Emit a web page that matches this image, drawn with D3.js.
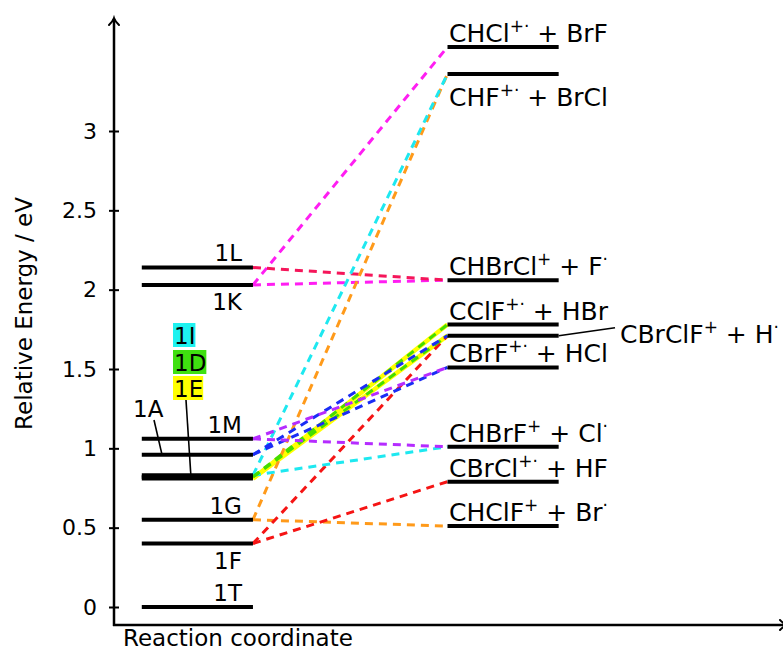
<!DOCTYPE html>
<html>
<head>
<meta charset="utf-8">
<script src="https://cdn.jsdelivr.net/npm/d3@7/dist/d3.min.js"></script>
<style>
  body { margin: 0; background: #fff; }
  text { font-family: "DejaVu Sans", sans-serif; fill: #000; }
</style>
</head>
<body>
<svg id="chart" width="783" height="650"></svg>
<script>
// Intermediates (left column), energies in eV
const intermediateNames    = ["1T", "1F", "1G", "1E", "1D", "1I", "1A", "1M", "1K", "1L"];
const intermediateEnergies = [0.00, 0.40, 0.55, 0.81, 0.82, 0.83, 0.96, 1.06, 2.03, 2.14];

// Dissociation products (right column), energies in eV
const productKeys      = ["CHClF", "CBrCl", "CHBrF", "CBrF", "CBrClF", "CClF", "CHBrCl", "CHF", "CHCl"];
const productEnergies  = [0.51, 0.79, 1.01, 1.51, 1.71, 1.78, 2.06, 3.36, 3.53];
const productIons      = ["CHClF", "CBrCl", "CHBrF", "CBrF", "CBrClF", "CClF", "CHBrCl", "CHF", "CHCl"];
const productCharges   = ["+", "+·", "+", "+·", "+", "+·", "+", "+·", "+·"];
const productNeutrals  = ["Br", "HF", "Cl", "HCl", "H", "HBr", "F", "BrCl", "BrF"];
const productRadicals  = ["·", "", "·", "", "·", "", "·", "", ""];

// Pathways from an intermediate to a product channel
const pathFrom = ["1K", "1K", "1L", "1G", "1G", "1F", "1F", "1I", "1I", "1E", "1E", "1D", "1D", "1A", "1A", "1M", "1M"];
const pathTo   = ["CHCl", "CHBrCl", "CHBrCl", "CHF", "CHClF", "CBrCl", "CBrClF", "CHF", "CHBrF", "CClF", "CBrClF", "CClF", "CBrClF", "CBrClF", "CBrF", "CHBrF", "CBrF"];

// y-axis ticks
const yTicks = [0, 0.5, 1, 1.5, 2, 2.5, 3];
const yTickLabels = ["0", "0.5", "1", "1.5", "2", "2.5", "3"];

// ---- styling ----
const pathColor = {
  "1K": "#ff1ef2", "1L": "#f5165a", "1G": "#ff9a1a", "1F": "#f51414",
  "1I": "#1ee8f0", "1E": "#ffff00", "1D": "#44dd00", "1A": "#1a2cf5", "1M": "#b52cff"
};
const boxColor = { "1I": "#1ef2f0", "1D": "#3fe010", "1E": "#ffff00" };

const svg = d3.select("#chart");

// x: reaction coordinate (arbitrary units), y: relative energy
const x = d3.scaleLinear().domain([0, 6]).range([114, 781]);
const y = d3.scaleLinear().domain([0, 3]).range([607, 131]);
const leftCol = [0.25, 1.25], rightCol = [3, 4];

const interE = new Map(intermediateNames.map((n, i) => [n, intermediateEnergies[i]]));
const prodE  = new Map(productKeys.map((k, i) => [k, productEnergies[i]]));

// ---- axes ----
const yAxis = d3.axisLeft(y).tickValues(yTicks)
  .tickFormat((d, i) => yTickLabels[i]).tickSize(5).tickPadding(12);
const gy = svg.append("g").attr("transform", `translate(${x(0)},0)`).call(yAxis);
gy.select(".domain").remove();
gy.selectAll(".tick line").attr("x1", 5).attr("stroke", "#000").attr("stroke-width", 2);
gy.selectAll(".tick text").style("font-size", "22px").style("font-family", "DejaVu Sans");

const yBottom = 625, yTop = 18, xEnd = x(6) + 6;
svg.append("line").attr("x1", x(0)).attr("x2", x(0)).attr("y1", yBottom + 1).attr("y2", yTop + 1)
  .attr("stroke", "#000").attr("stroke-width", 2.5);
svg.append("line").attr("x1", x(0) - 1).attr("x2", xEnd).attr("y1", yBottom).attr("y2", yBottom)
  .attr("stroke", "#000").attr("stroke-width", 2.5);
// arrow heads
svg.append("path")
  .attr("d", `M${x(0) - 5},${yTop + 7} Q${x(0) - 1},${yTop + 3} ${x(0)},${yTop} Q${x(0) + 1},${yTop + 3} ${x(0) + 5},${yTop + 7}`)
  .attr("fill", "none").attr("stroke", "#000").attr("stroke-width", 2).attr("stroke-linecap", "round");
svg.append("path")
  .attr("d", `M${xEnd - 7},${yBottom - 5} Q${xEnd - 3},${yBottom - 1} ${xEnd},${yBottom} Q${xEnd - 3},${yBottom + 1} ${xEnd - 7},${yBottom + 5}`)
  .attr("fill", "none").attr("stroke", "#000").attr("stroke-width", 2).attr("stroke-linecap", "round");

svg.append("text").attr("x", 123).attr("y", 646).style("font-size", "23px").text("Reaction coordinate");
svg.append("text").attr("transform", `translate(32,${y(1.85)}) rotate(-90)`).attr("text-anchor", "middle")
  .style("font-size", "23px").text("Relative Energy / eV");

// ---- pathways (dashed) ----
const paths = pathFrom.map((f, i) => ({ from: f, to: pathTo[i] }));
const gp = svg.append("g");
// yellow is drawn solid underneath the others
paths.filter(p => p.from === "1E").forEach(p => {
  gp.append("line")
    .attr("x1", x(leftCol[1])).attr("y1", y(interE.get(p.from)))
    .attr("x2", x(rightCol[0])).attr("y2", y(prodE.get(p.to)))
    .attr("stroke", pathColor[p.from]).attr("stroke-width", 4.5);
});
paths.filter(p => p.from !== "1E").forEach(p => {
  gp.append("line")
    .attr("x1", x(leftCol[1])).attr("y1", y(interE.get(p.from)))
    .attr("x2", x(rightCol[0])).attr("y2", y(prodE.get(p.to)))
    .attr("stroke", pathColor[p.from]).attr("stroke-width", 3)
    .attr("stroke-dasharray", "8,6");
});

// ---- energy levels ----
svg.append("g").selectAll("line.inter").data(intermediateNames).join("line")
  .attr("x1", x(leftCol[0])).attr("x2", x(leftCol[1]))
  .attr("y1", d => y(interE.get(d))).attr("y2", d => y(interE.get(d)))
  .attr("stroke", "#000").attr("stroke-width", 4);
svg.append("g").selectAll("line.prod").data(productKeys).join("line")
  .attr("x1", x(rightCol[0])).attr("x2", x(rightCol[1]))
  .attr("y1", d => y(prodE.get(d))).attr("y2", d => y(prodE.get(d)))
  .attr("stroke", "#000").attr("stroke-width", 4);

// ---- intermediate labels ----
const labelAbove = new Set(["1L", "1M", "1G", "1T"]);
const labelBelow = new Set(["1K", "1F"]);
intermediateNames.forEach(n => {
  if (!labelAbove.has(n) && !labelBelow.has(n)) return;
  const ly = y(interE.get(n)) + (labelAbove.has(n) ? -6 : 25);
  svg.append("text").attr("x", x(leftCol[1]) - 11).attr("y", ly)
    .attr("text-anchor", "end").style("font-size", "23px").text(n);
});

// stacked, colour-boxed labels for the near-degenerate group
const boxed = [["1I", 344], ["1D", 371], ["1E", 397]];
boxed.forEach(([n, by]) => {
  const t = svg.append("text").attr("x", 174).attr("y", by).style("font-size", "23px").text(n);
  const w = t.node().getComputedTextLength();
  svg.insert("rect", () => t.node()).attr("x", 173).attr("y", by - 21).attr("width", w + 1).attr("height", 24)
    .attr("fill", boxColor[n]);
});
svg.append("line").attr("x1", 186).attr("y1", 400).attr("x2", 191).attr("y2", y(interE.get("1E")) - 1)
  .attr("stroke", "#000").attr("stroke-width", 1.6);
svg.append("text").attr("x", 133).attr("y", 417).style("font-size", "23px").text("1A");
svg.append("line").attr("x1", 154).attr("y1", 420).attr("x2", 162).attr("y2", y(interE.get("1A")))
  .attr("stroke", "#000").attr("stroke-width", 1.6);

// ---- product labels ----
function productLabel(i, lx, ly) {
  const t = svg.append("text").attr("x", lx).attr("y", ly).style("font-size", "25px");
  t.append("tspan").text(productIons[i]);
  t.append("tspan").attr("dy", -10).style("font-size", "17px").text(productCharges[i]);
  t.append("tspan").attr("dy", 10).text(" + " + productNeutrals[i]);
  if (productRadicals[i]) t.append("tspan").attr("dy", -10).style("font-size", "17px").text(productRadicals[i]);
}
productKeys.forEach((k, i) => {
  const ly = y(productEnergies[i]);
  if (k === "CBrClF") {
    svg.append("line").attr("x1", x(rightCol[1])).attr("y1", ly).attr("x2", 615).attr("y2", ly - 8)
      .attr("stroke", "#000").attr("stroke-width", 1.6);
    productLabel(i, 620, ly + 7);
  } else if (k === "CHF") {
    productLabel(i, 449, ly + 32);
  } else {
    productLabel(i, 449, ly - 5);
  }
});
</script>
</body>
</html>
